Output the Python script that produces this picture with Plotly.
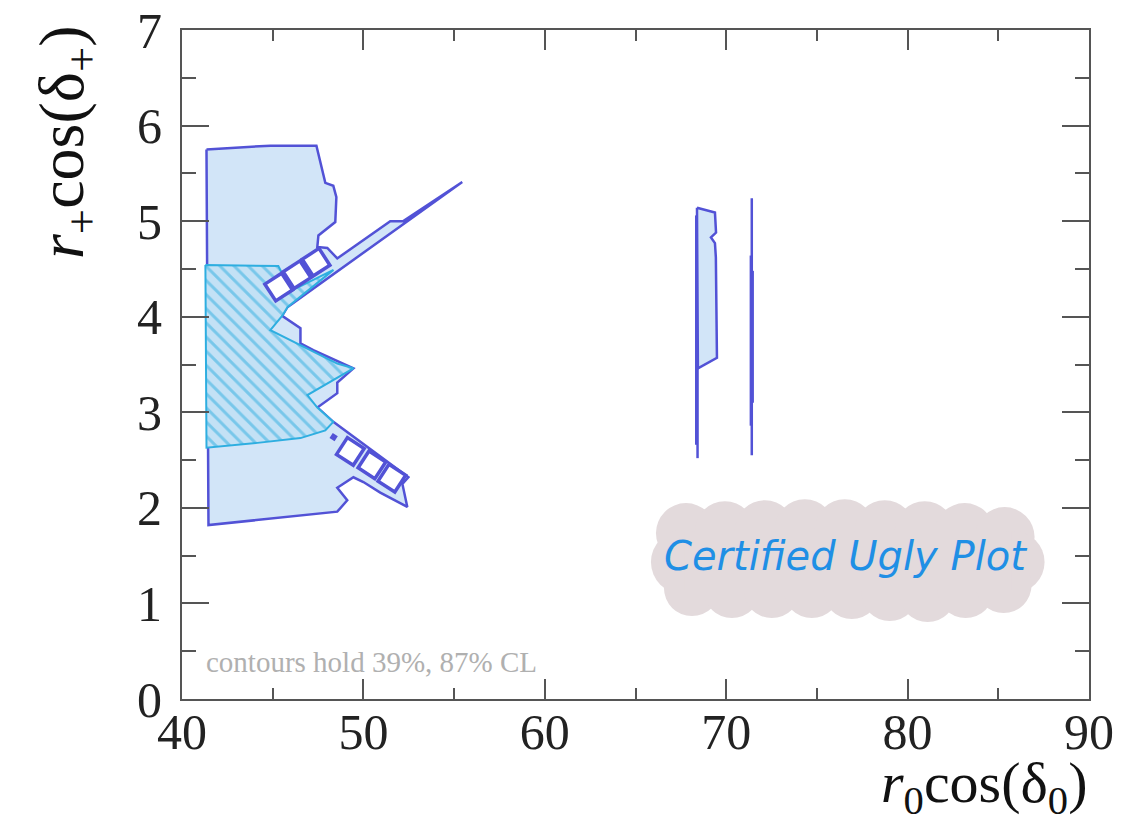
import plotly.graph_objects as go

# ---------------- data ----------------
# outer (87% CL) contour, left island
outer_x = [41.35, 42.84, 44.87, 47.41, 47.63, 47.90, 48.34, 48.51, 48.45, 47.52, 47.46, 48.01,
           48.56, 51.48, 52.20, 55.45, 45.81, 45.52, 46.53, 46.53, 47.24, 49.45, 48.56, 48.56,
           47.46, 48.34, 52.48, 52.15, 52.42, 50.93, 50.00, 49.45, 48.56, 49.11, 48.56, 46.53,
           42.84, 41.46, 41.35]
outer_y = [5.75, 5.77, 5.79, 5.79, 5.60, 5.40, 5.37, 5.25, 4.99, 4.85, 4.73, 4.72,
           4.61, 5.00, 5.00, 5.41, 4.10, 4.01, 3.88, 3.72, 3.65, 3.46, 3.31, 3.20,
           3.05, 2.90, 2.32, 2.25, 2.01, 2.16, 2.27, 2.32, 2.21, 2.08, 1.96, 1.92,
           1.84, 1.82, 5.75]

# inner (39% CL) hatched contour
inner_x = [41.29, 45.31, 45.53, 44.71, 45.26, 48.35, 45.81, 45.53, 44.87, 46.53, 48.56, 49.45,
           48.56, 46.91, 47.46, 48.34, 47.90, 46.53, 44.16, 41.35, 41.29]
inner_y = [4.54, 4.53, 4.45, 4.31, 4.20, 4.49, 4.10, 4.01, 3.86, 3.70, 3.51, 3.46,
           3.36, 3.18, 3.05, 2.90, 2.81, 2.73, 2.68, 2.63, 4.54]

# white square holes along the two diagonal bands
holes_up_x = [45.33, 46.34, 47.39]
holes_up_y = [4.31, 4.44, 4.57]
holes_dn_x = [49.28, 50.47, 51.57]
holes_dn_y = [2.59, 2.45, 2.31]
dot_x = [48.36]
dot_y = [2.74]

# right-hand narrow islands
isl1_x = [68.39, 69.38, 69.44, 69.16, 69.38, 69.43, 69.49, 68.44, 68.39]
isl1_y = [5.14, 5.09, 4.88, 4.83, 4.77, 4.62, 3.57, 3.46, 5.14]
isl1_tail_x = [68.42, 68.42]
isl1_tail_y = [3.46, 2.52]
isl1_edge_x = [68.35, 68.35]
isl1_edge_y = [5.06, 2.66]
isl2_a_x = [71.41, 71.41]
isl2_a_y = [5.24, 2.55]
isl2_b_x = [71.36, 71.36]
isl2_b_y = [4.64, 2.86]
isl2_c_x = [71.46, 71.46]
isl2_c_y = [4.48, 3.10]

x_ticks = [40, 50, 60, 70, 80, 90]
y_ticks = [0, 1, 2, 3, 4, 5, 6, 7]

# ---------------- styles ----------------
PURPLE = "#5252d6"
CYAN = "#2eaee0"
FILL = "#d2e5f8"
HATCH_BG = "#c3e1f5"
FRAME = "#555555"
SERIF = "Liberation Serif"

fig = go.Figure()

fig.add_trace(go.Scatter(x=outer_x, y=outer_y, mode="lines", fill="toself",
                         fillcolor=FILL, line=dict(color=PURPLE, width=2.5),
                         hoverinfo="skip", showlegend=False))
fig.add_trace(go.Scatter(x=inner_x, y=inner_y, mode="lines", fill="toself",
                         fillpattern=dict(shape="\\", fgcolor=CYAN, bgcolor=HATCH_BG,
                                          size=10, solidity=0.3),
                         line=dict(color=CYAN, width=2),
                         hoverinfo="skip", showlegend=False))
fig.add_trace(go.Scatter(x=holes_up_x, y=holes_up_y, mode="markers",
                         marker=dict(symbol="square", size=20, color="white", angle=-33,
                                     line=dict(color=PURPLE, width=3.5)),
                         hoverinfo="skip", showlegend=False))
fig.add_trace(go.Scatter(x=holes_dn_x, y=holes_dn_y, mode="markers",
                         marker=dict(symbol="square", size=20, color="white", angle=33,
                                     line=dict(color=PURPLE, width=3.5)),
                         hoverinfo="skip", showlegend=False))
fig.add_trace(go.Scatter(x=dot_x, y=dot_y, mode="markers",
                         marker=dict(symbol="square", size=6, color=PURPLE, angle=33),
                         hoverinfo="skip", showlegend=False))

fig.add_trace(go.Scatter(x=isl1_x, y=isl1_y, mode="lines", fill="toself",
                         fillcolor=FILL, line=dict(color=PURPLE, width=2.5),
                         hoverinfo="skip", showlegend=False))
for xs, ys in [(isl1_tail_x, isl1_tail_y), (isl1_edge_x, isl1_edge_y),
               (isl2_a_x, isl2_a_y), (isl2_b_x, isl2_b_y), (isl2_c_x, isl2_c_y)]:
    fig.add_trace(go.Scatter(x=xs, y=ys, mode="lines",
                             line=dict(color=PURPLE, width=2.5),
                             hoverinfo="skip", showlegend=False))

# ---------------- layout ----------------
# plot-area edges in page pixels; the page body has an 8 px margin
OFF = 8
L, R, T, B = 181.5, 1089.5, 29.5, 699.0
PAGE_W, PAGE_H = 1127, 821
W, H = PAGE_W - OFF, PAGE_H - OFF


def px2paper(px, py):
    return (px - L) / (R - L), (B - py) / (B - T)


axis_common = dict(showline=True, linecolor=FRAME, linewidth=2, mirror="ticks",
                   ticks="inside", tickcolor=FRAME, tickwidth=2,
                   showgrid=False, zeroline=False, automargin=False,
                   ticklabeloverflow="allow",
                   tickfont=dict(family=SERIF, size=50, color="#222222"))

fig.update_layout(
    width=W, height=H,
    margin=dict(l=L - OFF, r=PAGE_W - R, t=T - OFF, b=PAGE_H - B, autoexpand=False),
    paper_bgcolor="white", plot_bgcolor="white",
    xaxis=dict(range=[40, 90], tickvals=x_ticks, ticklen=20, ticklabelstandoff=-12,
               minor=dict(dtick=5, ticklen=11, ticks="inside", tickcolor=FRAME, tickwidth=2),
               **axis_common),
    yaxis=dict(range=[0, 7], tickvals=y_ticks, ticklen=27, ticklabelstandoff=8,
               minor=dict(dtick=0.5, ticklen=14, ticks="inside", tickcolor=FRAME, tickwidth=2),
               **axis_common),
)

# axis titles
tx, ty = px2paper(1090, 787)
fig.add_annotation(text="<i>r</i><sub>0</sub>cos(δ<sub>0</sub>)", xref="paper", yref="paper",
                   x=tx, y=ty, xanchor="right", yanchor="middle", showarrow=False,
                   font=dict(family=SERIF, size=58, color="#111111"))
tx, ty = px2paper(66, 142)
fig.add_annotation(text="<i>r</i><sub>+</sub>cos(δ<sub>+</sub>)", xref="paper", yref="paper",
                   x=tx, y=ty, xanchor="center", yanchor="middle", textangle=-90,
                   showarrow=False, font=dict(family=SERIF, size=64, color="#111111"))

# small note
tx, ty = px2paper(204, 662)
fig.add_annotation(text="contours hold 39%, 87% CL", xref="paper", yref="paper",
                   x=tx, y=ty, xanchor="left", yanchor="middle", showarrow=False,
                   font=dict(family=SERIF, size=29, color="#b0b0b0"))

# "Certified Ugly Plot" stamp: cloud of overlapping discs
BLOB = "#e3dadc"
blob_discs = [(686, 533, 30), (725, 531, 30), (765, 530, 30), (805, 529, 30), (845, 529, 30),
              (885, 530, 30), (925, 531, 30), (965, 533, 30), (1005, 537, 30),
              (683, 562, 32), (1014, 562, 31),
              (692, 588, 28), (732, 590, 28), (772, 590, 28), (812, 590, 28), (852, 591, 28),
              (890, 593, 28), (928, 594, 28), (966, 590, 28), (1004, 585, 28)]
for cx, cy, r in blob_discs:
    ax_, ay_ = px2paper(cx, cy)
    fig.add_shape(type="circle", xref="paper", yref="paper",
                  xsizemode="pixel", ysizemode="pixel", xanchor=ax_, yanchor=ay_,
                  x0=-r, x1=r, y0=-r, y1=r, fillcolor=BLOB, line=dict(width=0))
x0p, y0p = px2paper(685, 590)
x1p, y1p = px2paper(1012, 532)
fig.add_shape(type="rect", xref="paper", yref="paper", x0=x0p, x1=x1p, y0=y0p, y1=y1p,
              fillcolor=BLOB, line=dict(width=0))
tx, ty = px2paper(846, 556)
fig.add_annotation(text="Certified Ugly Plot", xref="paper", yref="paper",
                   x=tx, y=ty, xanchor="center", yanchor="middle", showarrow=False,
                   font=dict(family="DejaVu Sans", size=40, color="#1f8fe5", style="italic"))

fig.write_html("out.html")
